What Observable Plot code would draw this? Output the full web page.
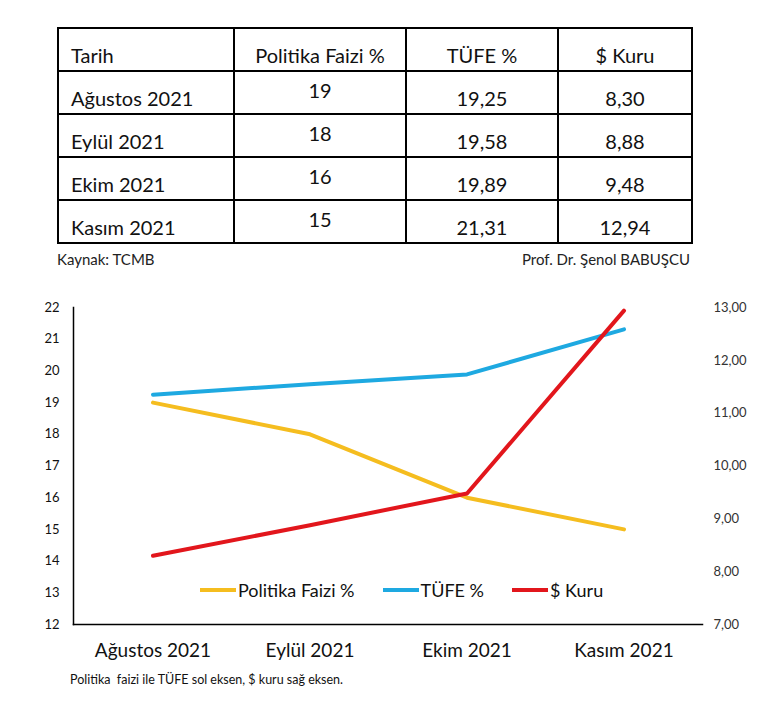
<!DOCTYPE html>
<html>
<head>
<meta charset="utf-8">
<script src="https://cdn.jsdelivr.net/npm/d3@7"></script>
<script src="https://cdn.jsdelivr.net/npm/@observablehq/plot@0.6"></script>
<style>
  html, body { margin:0; padding:0; background:#fff; }
  body { width:783px; height:708px; position:relative; overflow:hidden; font-family:Lato, "Open Sans", sans-serif; color:#111; }
  #tbl { position:absolute; left:57px; top:27px; width:634px; table-layout:fixed; border-collapse:collapse; font-size:20px; }
  #tbl td { border:2px solid #000; height:36px; padding:0 0 5px 0; vertical-align:bottom; line-height:1; box-sizing:content-box; overflow:visible; white-space:nowrap; }
  #tbl td.lbl { text-align:left; padding-left:12px; }
  #tbl td.num { text-align:center; }
  #tbl td.pf { height:28px; padding-bottom:13px; }
  .src { position:absolute; top:250px; font-size:15px; color:#222; }
  #chart { position:absolute; left:0; top:280px; }
  #legend { position:absolute; left:200px; top:579px; display:flex; align-items:center; font-size:18px; }
  #legend .item { display:flex; align-items:center; margin-right:28px; }
  #legend .sw { width:36px; height:4px; margin-right:2px; }
  #note { position:absolute; left:70px; top:672px; font-size:12.5px; white-space:pre; color:#111; }
</style>
</head>
<body>
<table id="tbl"><colgroup><col style="width:176px"><col style="width:172px"><col style="width:152px"><col style="width:134px"></colgroup></table>
<div class="src" style="left:57px;">Kaynak: TCMB</div>
<div class="src" style="right:93px;">Prof. Dr. Şenol BABUŞCU</div>
<div id="chart"></div>
<div id="legend"></div>
<div id="note">Politika  faizi ile TÜFE sol eksen, $ kuru sağ eksen.</div>
<script>
// ---- data ----
const months = ["Ağustos 2021", "Eylül 2021", "Ekim 2021", "Kasım 2021"];
const politikaFaizi = [19, 18, 16, 15];
const tufe = [19.25, 19.58, 19.89, 21.31];
const dolarKuru = [8.30, 8.88, 9.48, 12.94];
const tableHeaders = ["Tarih", "Politika Faizi %", "TÜFE %", "$ Kuru"];
const leftTicks = [12, 13, 14, 15, 16, 17, 18, 19, 20, 21, 22];
const rightTicks = [7, 8, 9, 10, 11, 12, 13];
const seriesNames = ["Politika Faizi %", "TÜFE %", "$ Kuru"];
const seriesColors = ["#F5BD1F", "#1EA9E1", "#E2161C"];

const fmt2 = v => v.toFixed(2).replace(".", ",");

// ---- table ----
const tbl = document.getElementById("tbl");
const hr = document.createElement("tr");
tableHeaders.forEach((h, i) => {
  const td = document.createElement("td");
  td.textContent = h;
  td.className = i === 0 ? "lbl" : "num";
  hr.appendChild(td);
});
tbl.appendChild(hr);
months.forEach((m, i) => {
  const tr = document.createElement("tr");
  const cells = [m, String(politikaFaizi[i]), fmt2(tufe[i]), fmt2(dolarKuru[i])];
  cells.forEach((c, j) => {
    const td = document.createElement("td");
    td.textContent = c;
    td.className = j === 0 ? "lbl" : (j === 1 ? "num pf" : "num");
    tr.appendChild(td);
  });
  tbl.appendChild(tr);
});

// ---- chart ----
const [L0, L1] = [12, 22], [R0, R1] = [7, 13];
const toLeft = v => L0 + (v - R0) * (L1 - L0) / (R1 - R0);
const toRight = v => R0 + (v - L0) * (R1 - R0) / (L1 - L0);

const rows = months.map((m, i) => ({ month: m, pf: politikaFaizi[i], tufe: tufe[i], kur: toLeft(dolarKuru[i]) }));

const chart = Plot.plot({
  width: 783,
  height: 420,
  marginTop: 27,
  marginBottom: 76,
  marginLeft: 73,
  marginRight: 81,
  style: { fontFamily: "Lato, 'Open Sans', sans-serif", background: "transparent", color: "#111" },
  x: { type: "band", domain: months, padding: 0, label: null },
  y: { domain: [L0, L1], label: null },
  marks: [
    Plot.axisX({ tickSize: 0, tickPadding: 19, fontSize: 19, label: null }),
    Plot.axisY(leftTicks, { anchor: "left", tickSize: 0, tickPadding: 14, fontSize: 13, label: null }),
    Plot.axisY(rightTicks.map(toLeft), { anchor: "right", tickSize: 0, tickPadding: 11, fontSize: 13, fill: "#333", label: null,
      tickFormat: v => fmt2(Math.round(toRight(v) * 100) / 100) }),
    Plot.frame({ anchor: "left", stroke: "#000", strokeWidth: 1.5 }),
    Plot.frame({ anchor: "bottom", stroke: "#000", strokeWidth: 1.5 }),
    Plot.line(rows, { x: "month", y: "pf", stroke: seriesColors[0], strokeWidth: 4, strokeLinejoin: "round" }),
    Plot.line(rows, { x: "month", y: "tufe", stroke: seriesColors[1], strokeWidth: 4, strokeLinejoin: "round" }),
    Plot.line(rows, { x: "month", y: "kur", stroke: seriesColors[2], strokeWidth: 4, strokeLinejoin: "round" })
  ]
});
document.getElementById("chart").appendChild(chart);

// ---- legend ----
const lg = document.getElementById("legend");
seriesNames.forEach((n, i) => {
  const it = document.createElement("div");
  it.className = "item";
  const sw = document.createElement("div");
  sw.className = "sw";
  sw.style.background = seriesColors[i];
  const t = document.createElement("span");
  t.textContent = n;
  it.appendChild(sw); it.appendChild(t);
  lg.appendChild(it);
});
</script>
</body>
</html>
